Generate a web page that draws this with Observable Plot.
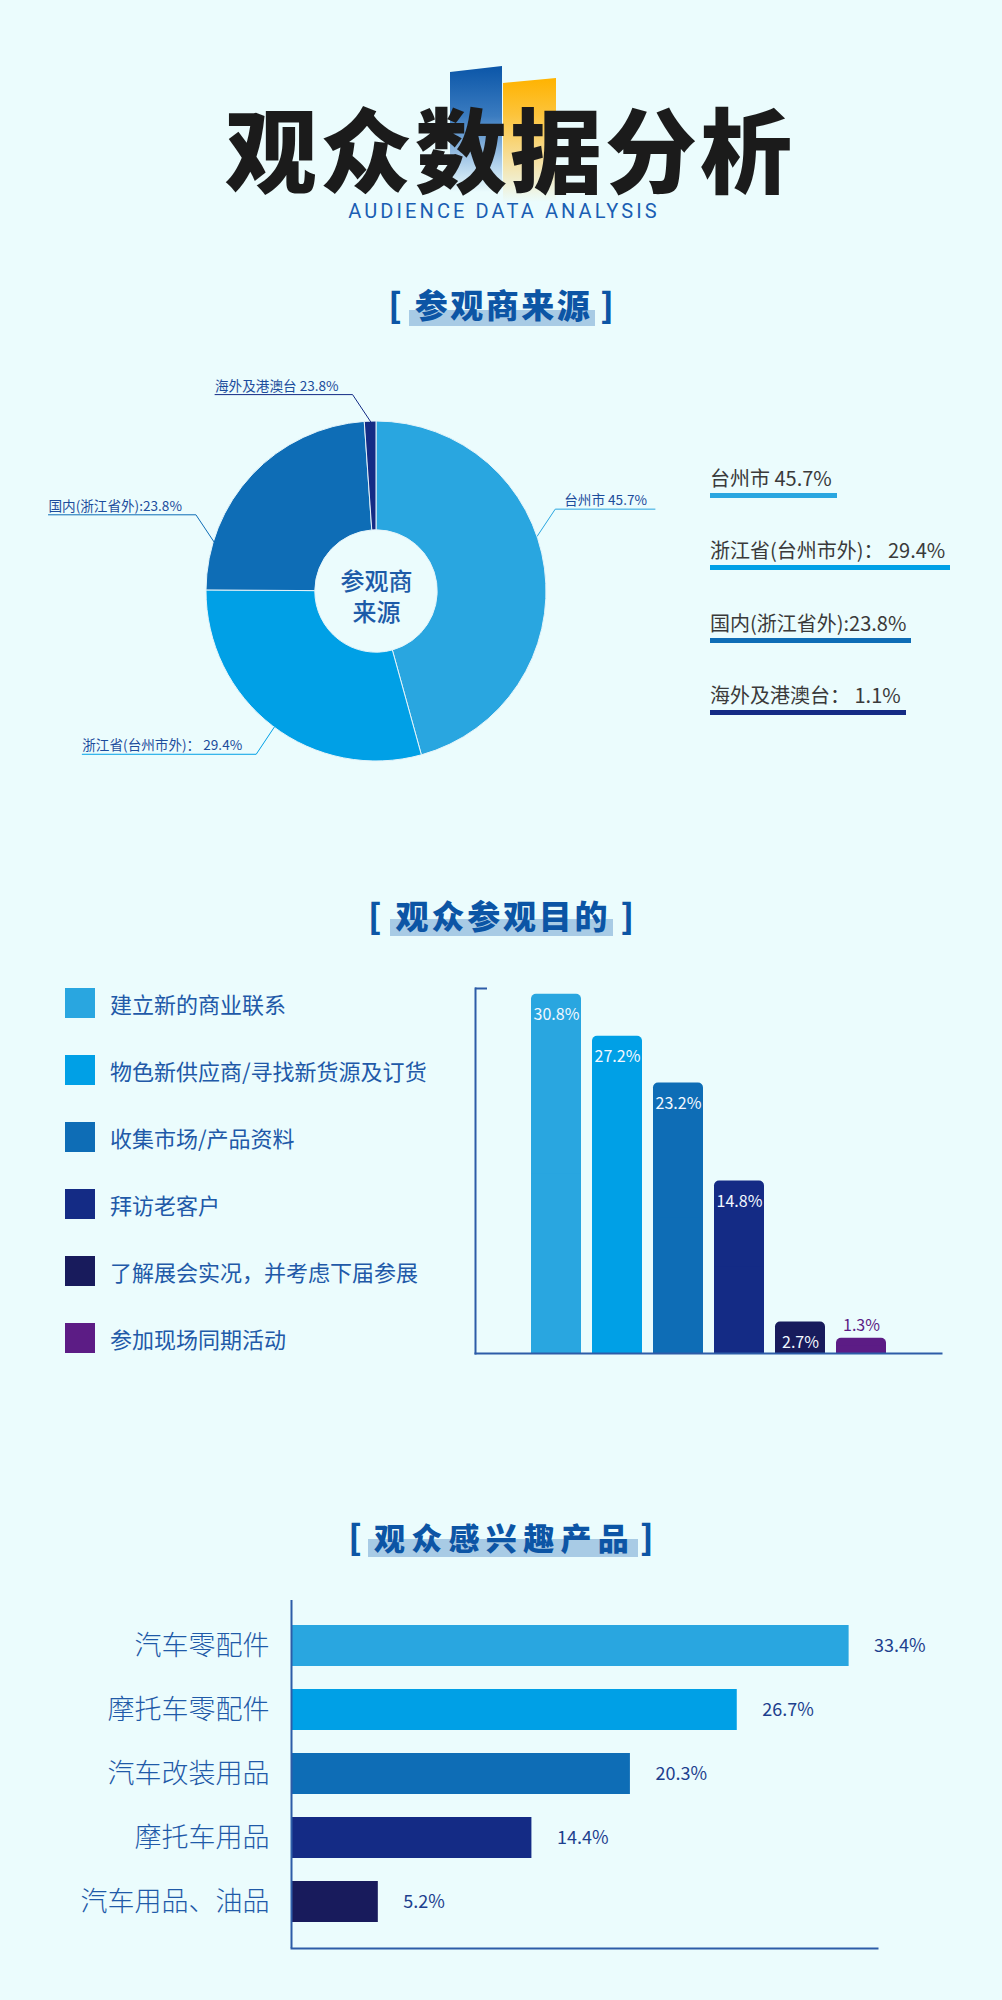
<!DOCTYPE html>
<html><head><meta charset="utf-8">
<script src="https://cdn.jsdelivr.net/npm/d3@7"></script>
<script src="https://cdn.jsdelivr.net/npm/@observablehq/plot@0.6"></script>
<style>
html,body{margin:0;padding:0;background:#ebfcfd;}
#page{position:relative;width:1002px;height:2000px;background:#ebfcfd;overflow:hidden;font-family:"Noto Sans CJK SC","Noto Sans",sans-serif;}
.sec{position:absolute;left:0;width:1002px;height:44px;display:flex;justify-content:center;align-items:center;color:#0c55a5;}
.sec .br{font-size:34px;line-height:34px;font-weight:900;}
.sec .st{position:relative;z-index:1;font-weight:900;line-height:1;}
.sec .hl{position:absolute;left:-6px;right:-3px;background:#a8cbe5;z-index:-1;}
.plotbox{position:absolute;}
.plotbox svg{display:block;}
</style></head>
<body><div id="page"></div>
<script>
// ---------- data ----------
const sourceNames = ["台州市", "浙江省(台州市外)", "国内(浙江省外)", "海外及港澳台"];
const sourceValues = [45.7, 29.4, 23.8, 1.1];
const sourcePieLabels = ["台州市 45.7%", "浙江省(台州市外)： 29.4%", "国内(浙江省外):23.8%", "海外及港澳台 23.8%"];
const sourceLegendLabels = ["台州市 45.7%", "浙江省(台州市外)： 29.4%", "国内(浙江省外):23.8%", "海外及港澳台： 1.1%"];
const sourceColors = ["#29a6e0", "#00a0e6", "#0e6db6", "#142b85"];
const sourceCenterLabel = "参观商\n来源";

const purposeNames = ["建立新的商业联系", "物色新供应商/寻找新货源及订货", "收集市场/产品资料", "拜访老客户", "了解展会实况，并考虑下届参展", "参加现场同期活动"];
const purposeValues = [30.8, 27.2, 23.2, 14.8, 2.7, 1.3];
const purposeColors = ["#29a6e0", "#00a0e6", "#0e6db6", "#142b85", "#181b5c", "#5c1c85"];

const productNames = ["汽车零配件", "摩托车零配件", "汽车改装用品", "摩托车用品", "汽车用品、油品"];
const productValues = [33.4, 26.7, 20.3, 14.4, 5.2];
const productColors = ["#29a6e0", "#00a0e6", "#0e6db6", "#142b85", "#181b5c"];

// layout (label leader angles, degrees clockwise from top)
const pieLabelAngles = [71, 217, 287, 358];

const FONT = '"Noto Sans CJK SC", "Noto Sans", sans-serif';
const AXIS = "#2d5ca8";
const page = document.getElementById("page");
function el(tag, style, text) {
  const e = document.createElement(tag);
  Object.assign(e.style, style);
  if (text != null) e.textContent = text;
  return e;
}

// ---------- header ----------
page.append(el("div", {position:"absolute", left:"450px", top:"66px", width:"52px", height:"126px",
  background:"linear-gradient(to bottom,#0b56a8 0%,#3b7cc0 40%,#a9cbe9 75%,rgba(235,252,253,0) 100%)",
  clipPath:"polygon(0 6px,100% 0,100% 100%,0 100%)"}));
page.append(el("div", {position:"absolute", left:"503px", top:"78px", width:"53px", height:"124px",
  background:"linear-gradient(to bottom,#ffb300 0%,#fcc43c 30%,#f6df9c 65%,rgba(235,252,253,0) 100%)",
  clipPath:"polygon(0 5px,100% 0,100% 100%,0 100%)"}));
page.append(el("div", {position:"absolute", left:"9px", top:"100px", width:"1002px", textAlign:"center",
  fontSize:"92px", lineHeight:"92px", fontWeight:"900", letterSpacing:"3px", color:"#1b1b1b"}, "观众数据分析"));
page.append(el("div", {position:"absolute", left:"3px", top:"201px", width:"1002px", textAlign:"center",
  fontFamily:"Roboto, sans-serif", fontSize:"20px", lineHeight:"20px", letterSpacing:"3.1px", color:"#1a5eb3"}, "AUDIENCE DATA ANALYSIS"));

// ---------- section titles ----------
function sectionTitle(text, cy, fs, ls, hlTop, hlH, gapL, gapR) {
  const d = el("div", {top:(cy - 22) + "px"});
  d.className = "sec";
  const b1 = el("span", {marginRight: gapL + "px"}, "[");
  b1.className = "br";
  const st = el("span", {fontSize: fs + "px", letterSpacing: ls + "px"}, text);
  st.className = "st";
  const hl = el("span", {top: hlTop + "px", height: hlH + "px"});
  hl.className = "hl";
  st.append(hl);
  const b2 = el("span", {marginLeft: gapR + "px"}, "]");
  b2.className = "br";
  d.append(b1, st, b2);
  page.append(d);
}
sectionTitle("参观商来源", 304, 33, 2.5, 22, 16, 13, 8);
sectionTitle("观众参观目的", 915, 33, 2.8, 20, 17, 14, 10);
sectionTitle("观众感兴趣产品", 1536, 31, 6.3, 18, 18, 12, 5);

// ---------- pie legend (right) ----------
const legTops = [466, 538, 611, 683];
sourceLegendLabels.forEach((t, i) => {
  const box = el("div", {position:"absolute", left:"710px", top: legTops[i] + "px"});
  box.append(el("div", {fontSize:"20px", lineHeight:"24px", color:"#3a3a3a", whiteSpace:"nowrap"}, t));
  box.append(el("div", {marginTop:"3px", height:"5px", width:"calc(100% + 5px)", background: sourceColors[i]}));
  page.append(box);
});

// ---------- pie chart ----------
const sources = sourceNames.map((name, i) => ({name, value: sourceValues[i], pieLabel: sourcePieLabels[i], color: sourceColors[i]}));
const pieArcs = d3.pie().sort(null).value(d => d.value)(sources);
const pieX = {domain: [-1, 1], range: [206, 546]};
const pieY = {domain: [-1, 1], range: [411, 71]};
const R = (pieX.range[1] - pieX.range[0]) / 2;
const innerRatio = 0.36;
const labelFs = 13.6;
const ctx = document.createElement("canvas").getContext("2d");
ctx.font = labelFs + 'px "Noto Sans CJK SC"';
const leaderPts = [], labelPos = [];
sources.forEach((s, i) => {
  const a = pieLabelAngles[i] * Math.PI / 180;
  const sx = Math.sin(a), sy = Math.cos(a);
  const h = sx >= 0 ? 1 : -1, v = sy >= 0 ? 1 : -1;
  const ex = sx + h * 18 / R, ey = sy + v * 27 / R;
  const w = ctx.measureText(s.pieLabel).width / R;
  let endX, textX;
  if (h > 0) { textX = ex + 9 / R; endX = textX + w + 8 / R; }
  else { endX = ex - w - 14 / R; textX = endX; }
  leaderPts.push({name: s.name, color: s.color, x: sx, y: sy},
                 {name: s.name, color: s.color, x: ex, y: ey},
                 {name: s.name, color: s.color, x: endX, y: ey});
  labelPos.push({text: s.pieLabel, x: textX, y: ey});
});
function pieMark(index, scales) {
  const cx = scales.x(0), cy = scales.y(0);
  const r = Math.abs(scales.x(1) - scales.x(0));
  const arc = d3.arc().innerRadius(r * innerRatio).outerRadius(r);
  const g = d3.create("svg:g").attr("transform", `translate(${cx},${cy})`);
  g.selectAll("path").data(pieArcs).join("path")
    .attr("d", arc).attr("fill", d => d.data.color)
    .attr("stroke", "#e4f4fa").attr("stroke-width", 1);
  return g.node();
}
const pie = Plot.plot({
  width: 700, height: 440, margin: 0,
  style: {background: "transparent", fontFamily: FONT},
  x: {...pieX, axis: null},
  y: {...pieY, axis: null},
  color: {type: "identity"},
  marks: [
    pieMark,
    Plot.line(leaderPts, {x: "x", y: "y", z: "name", stroke: "color", strokeWidth: 1}),
    Plot.text(labelPos, {x: "x", y: "y", text: "text", textAnchor: "start", lineAnchor: "bottom", dy: -4, fontSize: labelFs, fill: "#1c4c9c"}),
    Plot.text([sourceCenterLabel], {x: 0, y: 0, text: d => d, fontSize: 24, fontWeight: 500, fill: "#1d5ba8", lineHeight: 1.3, dy: 4})
  ]
});
const pieBox = el("div", {left: "0px", top: "350px", width: "700px", height: "440px"});
pieBox.className = "plotbox";
pieBox.append(pie);
page.append(pieBox);

// ---------- purpose legend (left) ----------
purposeNames.forEach((n, i) => {
  const cy = 1003 + i * 67;
  page.append(el("div", {position:"absolute", left:"65px", top:(cy - 15) + "px", width:"30px", height:"30px", background: purposeColors[i]}));
  page.append(el("div", {position:"absolute", left:"110px", top:(cy - 16) + "px", fontSize:"22px", lineHeight:"32px", color:"#2159a8", whiteSpace:"nowrap"}, n));
});

// ---------- purpose bar chart ----------
const purposes = purposeNames.map((name, i) => ({name, value: purposeValues[i], color: purposeColors[i]}));
const yTop = 31.3;
const barChart = Plot.plot({
  width: 500, height: 400, marginLeft: 15, marginRight: 19, marginTop: 18, marginBottom: 17,
  style: {background: "transparent", fontFamily: FONT},
  x: {domain: purposeNames, range: [62, 435], paddingInner: 0.177, paddingOuter: 0.097, axis: null},
  y: {domain: [0, yTop], axis: null},
  color: {type: "identity"},
  marks: [
    Plot.barY(purposes, {x: "name", y: "value", fill: "color", rx: 5}),
    Plot.barY(purposes, {x: "name", y: d => d.value / 2, fill: "color"}),
    Plot.text(purposes.filter(d => d.value >= 2), {x: "name", y: "value", text: d => d.value.toFixed(1) + "%", dy: 21, fill: "#f2f8ff", fontSize: 16}),
    Plot.text(purposes.filter(d => d.value < 2), {x: "name", y: "value", text: d => d.value.toFixed(1) + "%", dy: -12, fill: "color", fontSize: 16}),
    Plot.frame({anchor: "left", stroke: AXIS, strokeWidth: 2}),
    Plot.frame({anchor: "bottom", stroke: AXIS, strokeWidth: 2}),
    Plot.axisY({ticks: [yTop], tickSize: 12, dx: 12, tickFormat: () => "", label: null, stroke: AXIS, strokeWidth: 2})
  ]
});
const barBox = el("div", {left: "460px", top: "970px", width: "500px", height: "400px"});
barBox.className = "plotbox";
barBox.append(barChart);
page.append(barBox);

// ---------- product bar chart ----------
const products = productNames.map((name, i) => ({name, value: productValues[i], color: productColors[i]}));
const hbar = Plot.plot({
  width: 1002, height: 370, marginLeft: 291, marginRight: 125, marginTop: 10, marginBottom: 12,
  style: {background: "transparent", fontFamily: FONT},
  x: {domain: [0, 35.1], axis: null},
  y: {domain: productNames, paddingInner: 0.354, paddingOuter: 0.354, label: null},
  color: {type: "identity"},
  marks: [
    Plot.barX(products, {x: "value", y: "name", fill: "color"}),
    Plot.text(products, {x: "value", y: "name", text: d => d.value.toFixed(1) + "%", dx: 25, textAnchor: "start", fontSize: 18, fill: "#1d3f8e"}),
    Plot.axisY({tickSize: 0, tickPadding: 22, fontSize: 27, fontWeight: 300, color: "#1f5aa8", label: null}),
    Plot.ruleX([0], {stroke: AXIS, strokeWidth: 2}),
    Plot.frame({anchor: "bottom", stroke: AXIS, strokeWidth: 2})
  ]
});
const hbarBox = el("div", {left: "0px", top: "1590px", width: "1002px", height: "370px"});
hbarBox.className = "plotbox";
hbarBox.append(hbar);
page.append(hbarBox);
</script>
</body></html>
